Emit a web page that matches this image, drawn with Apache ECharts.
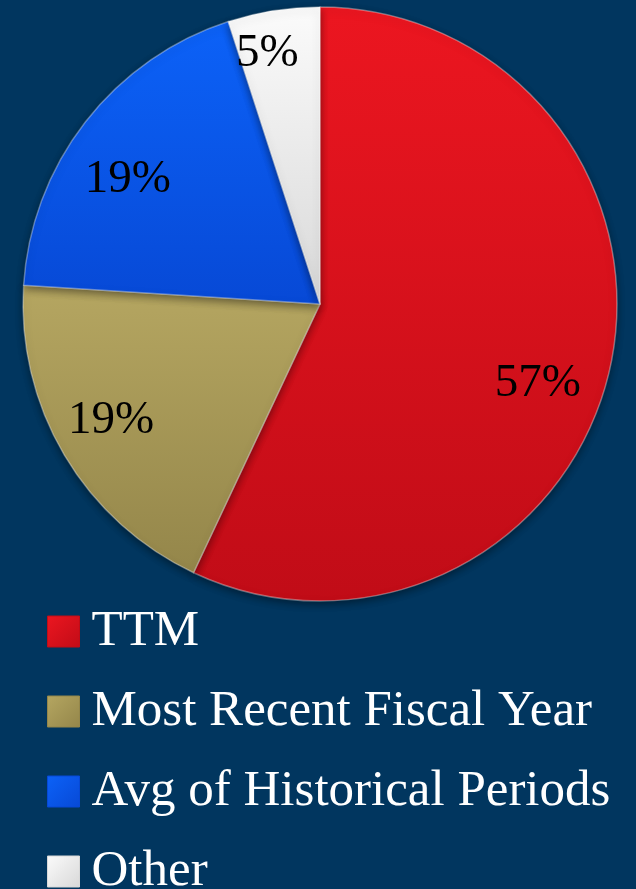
<!DOCTYPE html>
<html>
<head>
<meta charset="utf-8">
<title>Pie</title>
<script src="https://cdn.jsdelivr.net/npm/echarts@6/dist/echarts.min.js"></script>
<style>
  html, body { margin: 0; padding: 0; background: #01365f; }
  #chart { width: 636px; height: 889px; }
</style>
</head>
<body>
<div id="chart"></div>
<script>
// Share of each period basis (percent)
const categories = ['TTM', 'Most Recent Fiscal Year', 'Avg of Historical Periods', 'Other'];
const shares = [57, 19, 19, 5];

// Slice fills: [top, bottom] of each bevelled slice
const sliceColors = [
  ['#ec1620', '#c10c17'],
  ['#b5a661', '#94864a'],
  ['#0c62f8', '#0749d6'],
  ['#fbfbfb', '#d8d8d8']
];
// Small nudges so the percentage labels sit where they read best
const labelOffsets = [[-11, 29], [-7, -3], [-7, 19], [-16, -19]];

const cx = 320, cy = 304, R = 297;

function vGrad(c) {
  return new echarts.graphic.LinearGradient(0, 0, 0, 1, [
    { offset: 0, color: c[0] },
    { offset: 1, color: c[1] }
  ]);
}
function iconGrad(c) {
  return new echarts.graphic.LinearGradient(0, 0, 1, 1, [
    { offset: 0, color: c[0] },
    { offset: 1, color: c[1] }
  ]);
}

const chart = echarts.init(document.getElementById('chart'));

const fullData = categories.map((name, i) => ({
  name,
  value: shares[i],
  itemStyle: { color: vGrad(sliceColors[i]) }
}));

const labelData = categories.map((name, i) => ({
  name,
  value: shares[i],
  label: { offset: labelOffsets[i] }
}));

chart.setOption({
  backgroundColor: '#01365f',
  animation: false,
  legend: {
    orient: 'vertical',
    left: 47,
    top: 606,
    height: 320,
    padding: 0,
    itemWidth: 32,
    itemHeight: 31,
    itemGap: 29,
    icon: 'rect',
    selectedMode: false,
    data: categories.map((name, i) => ({
      name,
      itemStyle: {
        color: iconGrad(sliceColors[i]),
        borderColor: sliceColors[i][1],
        borderWidth: 1
      }
    })),
    textStyle: {
      color: '#ffffff',
      fontFamily: 'Liberation Serif',
      fontSize: 51,
      lineHeight: 50,
      padding: [0, 0, 0, 7]
    }
  },
  series: [
    {
      type: 'pie',
      center: [cx, cy],
      radius: [0, R],
      startAngle: 90,
      clockwise: true,
      silent: true,
      label: { show: false },
      labelLine: { show: false },
      itemStyle: {
        borderColor: 'rgba(255,255,255,0.35)',
        borderWidth: 1.5,
        shadowBlur: 8,
        shadowColor: 'rgba(0,0,0,0.45)',
        shadowOffsetY: 3
      },
      data: fullData
    },
    {
      type: 'pie',
      center: [cx, cy],
      radius: [166, R],
      startAngle: 90,
      clockwise: true,
      silent: true,
      itemStyle: { color: 'rgba(0,0,0,0)' },
      labelLine: { show: false },
      label: {
        show: true,
        position: 'inside',
        formatter: '{c}%',
        color: '#000000',
        fontFamily: 'Liberation Serif',
        fontSize: 47
      },
      data: labelData
    }
  ]
});
</script>
</body>
</html>
